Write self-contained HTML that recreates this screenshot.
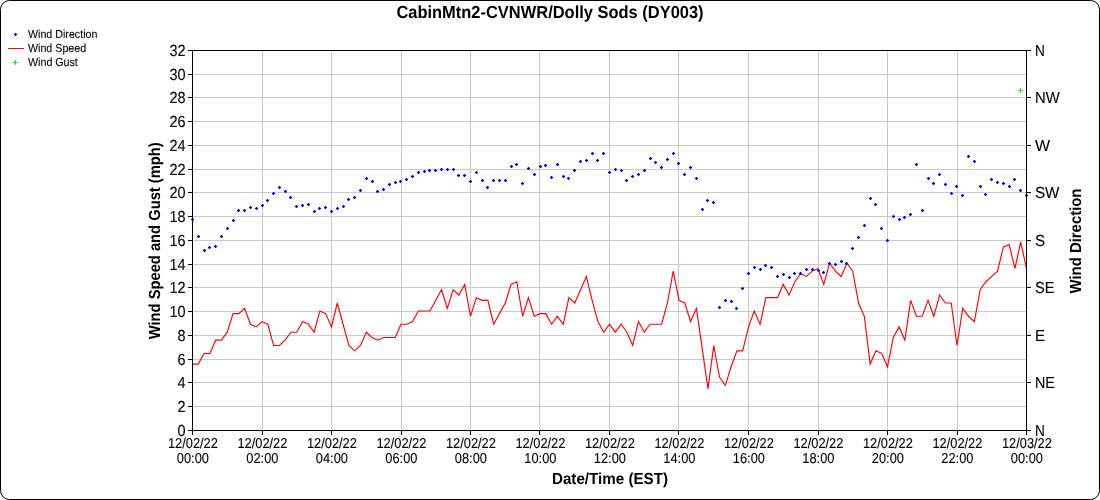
<!DOCTYPE html>
<html><head><meta charset="utf-8"><title>CabinMtn2-CVNWR/Dolly Sods (DY003)</title>
<style>html,body{margin:0;padding:0;background:#fff}body{width:1100px;height:500px;overflow:hidden}svg{display:block}text{font-family:"Liberation Sans",Arial,sans-serif;fill:#000;text-rendering:geometricPrecision;stroke:#000;stroke-width:0.1px}.b{font-weight:bold;stroke:none}</style></head><body>
<svg width="1100" height="500" viewBox="0 0 1100 500">
<rect x="0" y="0" width="1100" height="500" fill="#fff"/>
<rect x="0.5" y="0.5" width="1099" height="499" rx="9" ry="9" fill="#fff" stroke="#000" stroke-width="1"/>
<g shape-rendering="crispEdges" fill="#cacaca">
<rect x="193" y="406" width="833" height="1"/>
<rect x="193" y="382" width="833" height="1"/>
<rect x="193" y="359" width="833" height="1"/>
<rect x="193" y="335" width="833" height="1"/>
<rect x="193" y="311" width="833" height="1"/>
<rect x="193" y="287" width="833" height="1"/>
<rect x="193" y="264" width="833" height="1"/>
<rect x="193" y="240" width="833" height="1"/>
<rect x="193" y="216" width="833" height="1"/>
<rect x="193" y="192" width="833" height="1"/>
<rect x="193" y="169" width="833" height="1"/>
<rect x="193" y="145" width="833" height="1"/>
<rect x="193" y="121" width="833" height="1"/>
<rect x="193" y="97" width="833" height="1"/>
<rect x="193" y="74" width="833" height="1"/>
<rect x="262" y="51" width="1" height="379"/>
<rect x="331" y="51" width="1" height="379"/>
<rect x="401" y="51" width="1" height="379"/>
<rect x="470" y="51" width="1" height="379"/>
<rect x="539" y="51" width="1" height="379"/>
<rect x="609" y="51" width="1" height="379"/>
<rect x="678" y="51" width="1" height="379"/>
<rect x="748" y="51" width="1" height="379"/>
<rect x="818" y="51" width="1" height="379"/>
<rect x="887" y="51" width="1" height="379"/>
<rect x="957" y="51" width="1" height="379"/>
</g>
<polyline points="192.50,364.09 198.29,364.09 204.08,353.47 209.88,353.47 215.67,340.18 221.46,340.18 227.25,332.21 233.04,313.62 238.83,313.62 244.62,308.31 250.42,324.25 256.21,326.90 262.00,321.59 267.79,324.25 273.58,345.50 279.38,345.50 285.17,340.18 290.96,332.21 296.75,332.21 302.54,321.59 308.33,324.25 314.12,332.21 319.92,310.96 325.71,313.62 331.50,326.90 337.29,302.99 343.08,324.25 348.88,345.50 354.67,350.81 360.46,345.50 366.25,332.21 372.04,337.53 377.83,340.18 383.62,337.53 389.42,337.53 395.21,337.53 401.00,324.25 406.79,324.25 412.58,321.59 418.38,310.96 424.17,310.96 429.96,310.96 435.75,300.34 441.54,289.71 447.33,308.31 453.12,289.71 458.92,295.03 464.71,284.40 470.50,316.28 476.29,297.68 482.08,300.34 487.88,300.34 493.67,324.25 499.46,313.62 505.25,302.99 511.04,284.40 516.83,281.74 522.62,316.28 528.42,297.68 534.21,316.28 540.00,313.62 545.79,313.62 551.58,324.25 557.38,316.28 563.17,324.25 568.96,297.68 574.75,302.99 580.54,289.71 586.33,276.43 592.12,300.34 597.92,321.59 603.71,332.21 609.50,324.25 615.29,332.21 621.08,324.25 626.88,332.21 632.67,345.50 638.46,321.59 644.25,332.21 650.04,324.25 655.83,324.25 661.62,324.25 667.42,302.99 673.21,271.12 679.00,300.34 684.79,302.99 690.58,321.59 696.38,308.31 702.17,348.15 707.96,388.80 713.75,345.50 719.54,377.37 725.33,385.34 731.12,366.75 736.92,350.81 742.71,350.81 748.50,326.90 754.29,310.96 760.08,324.25 765.88,297.68 771.67,297.68 777.46,297.68 783.25,284.40 789.04,295.03 794.83,281.74 800.62,273.77 806.42,276.43 812.21,271.12 818.00,268.46 823.79,284.40 829.58,263.15 835.38,271.12 841.17,276.43 846.96,263.15 852.75,271.12 858.54,302.99 864.33,316.28 870.12,364.09 875.92,350.81 881.71,353.47 887.50,366.75 893.29,337.53 899.08,326.90 904.88,340.18 910.67,300.34 916.46,316.28 922.25,316.28 928.04,300.34 933.83,316.28 939.62,295.03 945.42,302.99 951.21,302.99 957.00,345.50 962.79,308.31 968.58,316.28 974.38,321.59 980.17,289.71 985.96,281.74 991.75,276.43 997.54,271.12 1003.33,247.21 1009.12,244.55 1014.92,268.46 1020.71,241.90 1026.50,268.46" fill="none" stroke="#ff0000" stroke-width="1.15" stroke-linejoin="miter"/>
<g shape-rendering="crispEdges" fill="#0000ff">
<path d="M191 219h3v1h-3zM192 218h1v3h-1z"/><rect x="191" y="218" width="3" height="3" fill-opacity="0.3"/>
<path d="M197 236h3v1h-3zM198 235h1v3h-1z"/><rect x="197" y="235" width="3" height="3" fill-opacity="0.3"/>
<path d="M203 250h3v1h-3zM204 249h1v3h-1z"/><rect x="203" y="249" width="3" height="3" fill-opacity="0.3"/>
<path d="M208 247h3v1h-3zM209 246h1v3h-1z"/><rect x="208" y="246" width="3" height="3" fill-opacity="0.3"/>
<path d="M214 246h3v1h-3zM215 245h1v3h-1z"/><rect x="214" y="245" width="3" height="3" fill-opacity="0.3"/>
<path d="M220 236h3v1h-3zM221 235h1v3h-1z"/><rect x="220" y="235" width="3" height="3" fill-opacity="0.3"/>
<path d="M226 228h3v1h-3zM227 227h1v3h-1z"/><rect x="226" y="227" width="3" height="3" fill-opacity="0.3"/>
<path d="M232 220h3v1h-3zM233 219h1v3h-1z"/><rect x="232" y="219" width="3" height="3" fill-opacity="0.3"/>
<path d="M237 210h3v1h-3zM238 209h1v3h-1z"/><rect x="237" y="209" width="3" height="3" fill-opacity="0.3"/>
<path d="M243 210h3v1h-3zM244 209h1v3h-1z"/><rect x="243" y="209" width="3" height="3" fill-opacity="0.3"/>
<path d="M249 207h3v1h-3zM250 206h1v3h-1z"/><rect x="249" y="206" width="3" height="3" fill-opacity="0.3"/>
<path d="M255 208h3v1h-3zM256 207h1v3h-1z"/><rect x="255" y="207" width="3" height="3" fill-opacity="0.3"/>
<path d="M261 205h3v1h-3zM262 204h1v3h-1z"/><rect x="261" y="204" width="3" height="3" fill-opacity="0.3"/>
<path d="M266 200h3v1h-3zM267 199h1v3h-1z"/><rect x="266" y="199" width="3" height="3" fill-opacity="0.3"/>
<path d="M272 193h3v1h-3zM273 192h1v3h-1z"/><rect x="272" y="192" width="3" height="3" fill-opacity="0.3"/>
<path d="M278 187h3v1h-3zM279 186h1v3h-1z"/><rect x="278" y="186" width="3" height="3" fill-opacity="0.3"/>
<path d="M284 191h3v1h-3zM285 190h1v3h-1z"/><rect x="284" y="190" width="3" height="3" fill-opacity="0.3"/>
<path d="M289 197h3v1h-3zM290 196h1v3h-1z"/><rect x="289" y="196" width="3" height="3" fill-opacity="0.3"/>
<path d="M295 206h3v1h-3zM296 205h1v3h-1z"/><rect x="295" y="205" width="3" height="3" fill-opacity="0.3"/>
<path d="M301 205h3v1h-3zM302 204h1v3h-1z"/><rect x="301" y="204" width="3" height="3" fill-opacity="0.3"/>
<path d="M307 204h3v1h-3zM308 203h1v3h-1z"/><rect x="307" y="203" width="3" height="3" fill-opacity="0.3"/>
<path d="M313 211h3v1h-3zM314 210h1v3h-1z"/><rect x="313" y="210" width="3" height="3" fill-opacity="0.3"/>
<path d="M318 208h3v1h-3zM319 207h1v3h-1z"/><rect x="318" y="207" width="3" height="3" fill-opacity="0.3"/>
<path d="M324 207h3v1h-3zM325 206h1v3h-1z"/><rect x="324" y="206" width="3" height="3" fill-opacity="0.3"/>
<path d="M330 211h3v1h-3zM331 210h1v3h-1z"/><rect x="330" y="210" width="3" height="3" fill-opacity="0.3"/>
<path d="M336 208h3v1h-3zM337 207h1v3h-1z"/><rect x="336" y="207" width="3" height="3" fill-opacity="0.3"/>
<path d="M342 206h3v1h-3zM343 205h1v3h-1z"/><rect x="342" y="205" width="3" height="3" fill-opacity="0.3"/>
<path d="M347 199h3v1h-3zM348 198h1v3h-1z"/><rect x="347" y="198" width="3" height="3" fill-opacity="0.3"/>
<path d="M353 197h3v1h-3zM354 196h1v3h-1z"/><rect x="353" y="196" width="3" height="3" fill-opacity="0.3"/>
<path d="M359 190h3v1h-3zM360 189h1v3h-1z"/><rect x="359" y="189" width="3" height="3" fill-opacity="0.3"/>
<path d="M365 178h3v1h-3zM366 177h1v3h-1z"/><rect x="365" y="177" width="3" height="3" fill-opacity="0.3"/>
<path d="M371 181h3v1h-3zM372 180h1v3h-1z"/><rect x="371" y="180" width="3" height="3" fill-opacity="0.3"/>
<path d="M376 191h3v1h-3zM377 190h1v3h-1z"/><rect x="376" y="190" width="3" height="3" fill-opacity="0.3"/>
<path d="M382 189h3v1h-3zM383 188h1v3h-1z"/><rect x="382" y="188" width="3" height="3" fill-opacity="0.3"/>
<path d="M388 184h3v1h-3zM389 183h1v3h-1z"/><rect x="388" y="183" width="3" height="3" fill-opacity="0.3"/>
<path d="M394 182h3v1h-3zM395 181h1v3h-1z"/><rect x="394" y="181" width="3" height="3" fill-opacity="0.3"/>
<path d="M399 181h3v1h-3zM400 180h1v3h-1z"/><rect x="399" y="180" width="3" height="3" fill-opacity="0.3"/>
<path d="M405 179h3v1h-3zM406 178h1v3h-1z"/><rect x="405" y="178" width="3" height="3" fill-opacity="0.3"/>
<path d="M411 176h3v1h-3zM412 175h1v3h-1z"/><rect x="411" y="175" width="3" height="3" fill-opacity="0.3"/>
<path d="M417 172h3v1h-3zM418 171h1v3h-1z"/><rect x="417" y="171" width="3" height="3" fill-opacity="0.3"/>
<path d="M423 171h3v1h-3zM424 170h1v3h-1z"/><rect x="423" y="170" width="3" height="3" fill-opacity="0.3"/>
<path d="M428 170h3v1h-3zM429 169h1v3h-1z"/><rect x="428" y="169" width="3" height="3" fill-opacity="0.3"/>
<path d="M434 170h3v1h-3zM435 169h1v3h-1z"/><rect x="434" y="169" width="3" height="3" fill-opacity="0.3"/>
<path d="M440 169h3v1h-3zM441 168h1v3h-1z"/><rect x="440" y="168" width="3" height="3" fill-opacity="0.3"/>
<path d="M446 169h3v1h-3zM447 168h1v3h-1z"/><rect x="446" y="168" width="3" height="3" fill-opacity="0.3"/>
<path d="M452 169h3v1h-3zM453 168h1v3h-1z"/><rect x="452" y="168" width="3" height="3" fill-opacity="0.3"/>
<path d="M457 175h3v1h-3zM458 174h1v3h-1z"/><rect x="457" y="174" width="3" height="3" fill-opacity="0.3"/>
<path d="M463 175h3v1h-3zM464 174h1v3h-1z"/><rect x="463" y="174" width="3" height="3" fill-opacity="0.3"/>
<path d="M469 181h3v1h-3zM470 180h1v3h-1z"/><rect x="469" y="180" width="3" height="3" fill-opacity="0.3"/>
<path d="M475 172h3v1h-3zM476 171h1v3h-1z"/><rect x="475" y="171" width="3" height="3" fill-opacity="0.3"/>
<path d="M481 180h3v1h-3zM482 179h1v3h-1z"/><rect x="481" y="179" width="3" height="3" fill-opacity="0.3"/>
<path d="M486 187h3v1h-3zM487 186h1v3h-1z"/><rect x="486" y="186" width="3" height="3" fill-opacity="0.3"/>
<path d="M492 180h3v1h-3zM493 179h1v3h-1z"/><rect x="492" y="179" width="3" height="3" fill-opacity="0.3"/>
<path d="M498 180h3v1h-3zM499 179h1v3h-1z"/><rect x="498" y="179" width="3" height="3" fill-opacity="0.3"/>
<path d="M504 180h3v1h-3zM505 179h1v3h-1z"/><rect x="504" y="179" width="3" height="3" fill-opacity="0.3"/>
<path d="M510 166h3v1h-3zM511 165h1v3h-1z"/><rect x="510" y="165" width="3" height="3" fill-opacity="0.3"/>
<path d="M515 164h3v1h-3zM516 163h1v3h-1z"/><rect x="515" y="163" width="3" height="3" fill-opacity="0.3"/>
<path d="M521 183h3v1h-3zM522 182h1v3h-1z"/><rect x="521" y="182" width="3" height="3" fill-opacity="0.3"/>
<path d="M527 168h3v1h-3zM528 167h1v3h-1z"/><rect x="527" y="167" width="3" height="3" fill-opacity="0.3"/>
<path d="M533 174h3v1h-3zM534 173h1v3h-1z"/><rect x="533" y="173" width="3" height="3" fill-opacity="0.3"/>
<path d="M539 166h3v1h-3zM540 165h1v3h-1z"/><rect x="539" y="165" width="3" height="3" fill-opacity="0.3"/>
<path d="M544 165h3v1h-3zM545 164h1v3h-1z"/><rect x="544" y="164" width="3" height="3" fill-opacity="0.3"/>
<path d="M550 177h3v1h-3zM551 176h1v3h-1z"/><rect x="550" y="176" width="3" height="3" fill-opacity="0.3"/>
<path d="M556 164h3v1h-3zM557 163h1v3h-1z"/><rect x="556" y="163" width="3" height="3" fill-opacity="0.3"/>
<path d="M562 176h3v1h-3zM563 175h1v3h-1z"/><rect x="562" y="175" width="3" height="3" fill-opacity="0.3"/>
<path d="M567 178h3v1h-3zM568 177h1v3h-1z"/><rect x="567" y="177" width="3" height="3" fill-opacity="0.3"/>
<path d="M573 170h3v1h-3zM574 169h1v3h-1z"/><rect x="573" y="169" width="3" height="3" fill-opacity="0.3"/>
<path d="M579 161h3v1h-3zM580 160h1v3h-1z"/><rect x="579" y="160" width="3" height="3" fill-opacity="0.3"/>
<path d="M585 160h3v1h-3zM586 159h1v3h-1z"/><rect x="585" y="159" width="3" height="3" fill-opacity="0.3"/>
<path d="M591 153h3v1h-3zM592 152h1v3h-1z"/><rect x="591" y="152" width="3" height="3" fill-opacity="0.3"/>
<path d="M596 160h3v1h-3zM597 159h1v3h-1z"/><rect x="596" y="159" width="3" height="3" fill-opacity="0.3"/>
<path d="M602 153h3v1h-3zM603 152h1v3h-1z"/><rect x="602" y="152" width="3" height="3" fill-opacity="0.3"/>
<path d="M608 172h3v1h-3zM609 171h1v3h-1z"/><rect x="608" y="171" width="3" height="3" fill-opacity="0.3"/>
<path d="M614 169h3v1h-3zM615 168h1v3h-1z"/><rect x="614" y="168" width="3" height="3" fill-opacity="0.3"/>
<path d="M620 170h3v1h-3zM621 169h1v3h-1z"/><rect x="620" y="169" width="3" height="3" fill-opacity="0.3"/>
<path d="M625 180h3v1h-3zM626 179h1v3h-1z"/><rect x="625" y="179" width="3" height="3" fill-opacity="0.3"/>
<path d="M631 176h3v1h-3zM632 175h1v3h-1z"/><rect x="631" y="175" width="3" height="3" fill-opacity="0.3"/>
<path d="M637 174h3v1h-3zM638 173h1v3h-1z"/><rect x="637" y="173" width="3" height="3" fill-opacity="0.3"/>
<path d="M643 170h3v1h-3zM644 169h1v3h-1z"/><rect x="643" y="169" width="3" height="3" fill-opacity="0.3"/>
<path d="M649 158h3v1h-3zM650 157h1v3h-1z"/><rect x="649" y="157" width="3" height="3" fill-opacity="0.3"/>
<path d="M654 162h3v1h-3zM655 161h1v3h-1z"/><rect x="654" y="161" width="3" height="3" fill-opacity="0.3"/>
<path d="M660 167h3v1h-3zM661 166h1v3h-1z"/><rect x="660" y="166" width="3" height="3" fill-opacity="0.3"/>
<path d="M666 159h3v1h-3zM667 158h1v3h-1z"/><rect x="666" y="158" width="3" height="3" fill-opacity="0.3"/>
<path d="M672 153h3v1h-3zM673 152h1v3h-1z"/><rect x="672" y="152" width="3" height="3" fill-opacity="0.3"/>
<path d="M677 163h3v1h-3zM678 162h1v3h-1z"/><rect x="677" y="162" width="3" height="3" fill-opacity="0.3"/>
<path d="M683 174h3v1h-3zM684 173h1v3h-1z"/><rect x="683" y="173" width="3" height="3" fill-opacity="0.3"/>
<path d="M689 167h3v1h-3zM690 166h1v3h-1z"/><rect x="689" y="166" width="3" height="3" fill-opacity="0.3"/>
<path d="M695 178h3v1h-3zM696 177h1v3h-1z"/><rect x="695" y="177" width="3" height="3" fill-opacity="0.3"/>
<path d="M701 209h3v1h-3zM702 208h1v3h-1z"/><rect x="701" y="208" width="3" height="3" fill-opacity="0.3"/>
<path d="M706 200h3v1h-3zM707 199h1v3h-1z"/><rect x="706" y="199" width="3" height="3" fill-opacity="0.3"/>
<path d="M712 202h3v1h-3zM713 201h1v3h-1z"/><rect x="712" y="201" width="3" height="3" fill-opacity="0.3"/>
<path d="M718 307h3v1h-3zM719 306h1v3h-1z"/><rect x="718" y="306" width="3" height="3" fill-opacity="0.3"/>
<path d="M724 300h3v1h-3zM725 299h1v3h-1z"/><rect x="724" y="299" width="3" height="3" fill-opacity="0.3"/>
<path d="M730 301h3v1h-3zM731 300h1v3h-1z"/><rect x="730" y="300" width="3" height="3" fill-opacity="0.3"/>
<path d="M735 308h3v1h-3zM736 307h1v3h-1z"/><rect x="735" y="307" width="3" height="3" fill-opacity="0.3"/>
<path d="M741 288h3v1h-3zM742 287h1v3h-1z"/><rect x="741" y="287" width="3" height="3" fill-opacity="0.3"/>
<path d="M747 273h3v1h-3zM748 272h1v3h-1z"/><rect x="747" y="272" width="3" height="3" fill-opacity="0.3"/>
<path d="M753 267h3v1h-3zM754 266h1v3h-1z"/><rect x="753" y="266" width="3" height="3" fill-opacity="0.3"/>
<path d="M759 269h3v1h-3zM760 268h1v3h-1z"/><rect x="759" y="268" width="3" height="3" fill-opacity="0.3"/>
<path d="M764 265h3v1h-3zM765 264h1v3h-1z"/><rect x="764" y="264" width="3" height="3" fill-opacity="0.3"/>
<path d="M770 267h3v1h-3zM771 266h1v3h-1z"/><rect x="770" y="266" width="3" height="3" fill-opacity="0.3"/>
<path d="M776 276h3v1h-3zM777 275h1v3h-1z"/><rect x="776" y="275" width="3" height="3" fill-opacity="0.3"/>
<path d="M782 274h3v1h-3zM783 273h1v3h-1z"/><rect x="782" y="273" width="3" height="3" fill-opacity="0.3"/>
<path d="M788 277h3v1h-3zM789 276h1v3h-1z"/><rect x="788" y="276" width="3" height="3" fill-opacity="0.3"/>
<path d="M793 273h3v1h-3zM794 272h1v3h-1z"/><rect x="793" y="272" width="3" height="3" fill-opacity="0.3"/>
<path d="M799 273h3v1h-3zM800 272h1v3h-1z"/><rect x="799" y="272" width="3" height="3" fill-opacity="0.3"/>
<path d="M805 269h3v1h-3zM806 268h1v3h-1z"/><rect x="805" y="268" width="3" height="3" fill-opacity="0.3"/>
<path d="M811 269h3v1h-3zM812 268h1v3h-1z"/><rect x="811" y="268" width="3" height="3" fill-opacity="0.3"/>
<path d="M817 270h3v1h-3zM818 269h1v3h-1z"/><rect x="817" y="269" width="3" height="3" fill-opacity="0.3"/>
<path d="M822 272h3v1h-3zM823 271h1v3h-1z"/><rect x="822" y="271" width="3" height="3" fill-opacity="0.3"/>
<path d="M828 263h3v1h-3zM829 262h1v3h-1z"/><rect x="828" y="262" width="3" height="3" fill-opacity="0.3"/>
<path d="M834 264h3v1h-3zM835 263h1v3h-1z"/><rect x="834" y="263" width="3" height="3" fill-opacity="0.3"/>
<path d="M840 261h3v1h-3zM841 260h1v3h-1z"/><rect x="840" y="260" width="3" height="3" fill-opacity="0.3"/>
<path d="M845 263h3v1h-3zM846 262h1v3h-1z"/><rect x="845" y="262" width="3" height="3" fill-opacity="0.3"/>
<path d="M851 248h3v1h-3zM852 247h1v3h-1z"/><rect x="851" y="247" width="3" height="3" fill-opacity="0.3"/>
<path d="M857 237h3v1h-3zM858 236h1v3h-1z"/><rect x="857" y="236" width="3" height="3" fill-opacity="0.3"/>
<path d="M863 225h3v1h-3zM864 224h1v3h-1z"/><rect x="863" y="224" width="3" height="3" fill-opacity="0.3"/>
<path d="M869 198h3v1h-3zM870 197h1v3h-1z"/><rect x="869" y="197" width="3" height="3" fill-opacity="0.3"/>
<path d="M874 204h3v1h-3zM875 203h1v3h-1z"/><rect x="874" y="203" width="3" height="3" fill-opacity="0.3"/>
<path d="M880 228h3v1h-3zM881 227h1v3h-1z"/><rect x="880" y="227" width="3" height="3" fill-opacity="0.3"/>
<path d="M886 240h3v1h-3zM887 239h1v3h-1z"/><rect x="886" y="239" width="3" height="3" fill-opacity="0.3"/>
<path d="M892 216h3v1h-3zM893 215h1v3h-1z"/><rect x="892" y="215" width="3" height="3" fill-opacity="0.3"/>
<path d="M898 219h3v1h-3zM899 218h1v3h-1z"/><rect x="898" y="218" width="3" height="3" fill-opacity="0.3"/>
<path d="M903 217h3v1h-3zM904 216h1v3h-1z"/><rect x="903" y="216" width="3" height="3" fill-opacity="0.3"/>
<path d="M909 214h3v1h-3zM910 213h1v3h-1z"/><rect x="909" y="213" width="3" height="3" fill-opacity="0.3"/>
<path d="M915 164h3v1h-3zM916 163h1v3h-1z"/><rect x="915" y="163" width="3" height="3" fill-opacity="0.3"/>
<path d="M921 210h3v1h-3zM922 209h1v3h-1z"/><rect x="921" y="209" width="3" height="3" fill-opacity="0.3"/>
<path d="M927 178h3v1h-3zM928 177h1v3h-1z"/><rect x="927" y="177" width="3" height="3" fill-opacity="0.3"/>
<path d="M932 183h3v1h-3zM933 182h1v3h-1z"/><rect x="932" y="182" width="3" height="3" fill-opacity="0.3"/>
<path d="M938 174h3v1h-3zM939 173h1v3h-1z"/><rect x="938" y="173" width="3" height="3" fill-opacity="0.3"/>
<path d="M944 184h3v1h-3zM945 183h1v3h-1z"/><rect x="944" y="183" width="3" height="3" fill-opacity="0.3"/>
<path d="M950 193h3v1h-3zM951 192h1v3h-1z"/><rect x="950" y="192" width="3" height="3" fill-opacity="0.3"/>
<path d="M955 186h3v1h-3zM956 185h1v3h-1z"/><rect x="955" y="185" width="3" height="3" fill-opacity="0.3"/>
<path d="M961 195h3v1h-3zM962 194h1v3h-1z"/><rect x="961" y="194" width="3" height="3" fill-opacity="0.3"/>
<path d="M967 156h3v1h-3zM968 155h1v3h-1z"/><rect x="967" y="155" width="3" height="3" fill-opacity="0.3"/>
<path d="M973 161h3v1h-3zM974 160h1v3h-1z"/><rect x="973" y="160" width="3" height="3" fill-opacity="0.3"/>
<path d="M979 186h3v1h-3zM980 185h1v3h-1z"/><rect x="979" y="185" width="3" height="3" fill-opacity="0.3"/>
<path d="M984 194h3v1h-3zM985 193h1v3h-1z"/><rect x="984" y="193" width="3" height="3" fill-opacity="0.3"/>
<path d="M990 179h3v1h-3zM991 178h1v3h-1z"/><rect x="990" y="178" width="3" height="3" fill-opacity="0.3"/>
<path d="M996 182h3v1h-3zM997 181h1v3h-1z"/><rect x="996" y="181" width="3" height="3" fill-opacity="0.3"/>
<path d="M1002 183h3v1h-3zM1003 182h1v3h-1z"/><rect x="1002" y="182" width="3" height="3" fill-opacity="0.3"/>
<path d="M1008 186h3v1h-3zM1009 185h1v3h-1z"/><rect x="1008" y="185" width="3" height="3" fill-opacity="0.3"/>
<path d="M1013 179h3v1h-3zM1014 178h1v3h-1z"/><rect x="1013" y="178" width="3" height="3" fill-opacity="0.3"/>
<path d="M1019 190h3v1h-3zM1020 189h1v3h-1z"/><rect x="1019" y="189" width="3" height="3" fill-opacity="0.3"/>
<path d="M1025 195h3v1h-3zM1026 194h1v3h-1z"/><rect x="1025" y="194" width="3" height="3" fill-opacity="0.3"/>
</g>
<g shape-rendering="crispEdges" fill="#00ff00"><rect x="1018" y="90" width="5" height="1"/><rect x="1020" y="88" width="1" height="5"/></g>
<g shape-rendering="crispEdges" fill="#000">
<rect x="192" y="50" width="835" height="1"/>
<rect x="192" y="430" width="835" height="1"/>
<rect x="192" y="50" width="1" height="381"/>
<rect x="1026" y="50" width="1" height="381"/>
<rect x="188" y="430" width="4" height="1"/>
<rect x="188" y="406" width="4" height="1"/>
<rect x="188" y="382" width="4" height="1"/>
<rect x="188" y="359" width="4" height="1"/>
<rect x="188" y="335" width="4" height="1"/>
<rect x="188" y="311" width="4" height="1"/>
<rect x="188" y="287" width="4" height="1"/>
<rect x="188" y="264" width="4" height="1"/>
<rect x="188" y="240" width="4" height="1"/>
<rect x="188" y="216" width="4" height="1"/>
<rect x="188" y="192" width="4" height="1"/>
<rect x="188" y="169" width="4" height="1"/>
<rect x="188" y="145" width="4" height="1"/>
<rect x="188" y="121" width="4" height="1"/>
<rect x="188" y="97" width="4" height="1"/>
<rect x="188" y="74" width="4" height="1"/>
<rect x="188" y="50" width="4" height="1"/>
<rect x="1027" y="430" width="4" height="1"/>
<rect x="1027" y="382" width="4" height="1"/>
<rect x="1027" y="335" width="4" height="1"/>
<rect x="1027" y="287" width="4" height="1"/>
<rect x="1027" y="240" width="4" height="1"/>
<rect x="1027" y="192" width="4" height="1"/>
<rect x="1027" y="145" width="4" height="1"/>
<rect x="1027" y="97" width="4" height="1"/>
<rect x="1027" y="50" width="4" height="1"/>
<rect x="192" y="431" width="1" height="4"/>
<rect x="262" y="431" width="1" height="4"/>
<rect x="331" y="431" width="1" height="4"/>
<rect x="401" y="431" width="1" height="4"/>
<rect x="470" y="431" width="1" height="4"/>
<rect x="539" y="431" width="1" height="4"/>
<rect x="609" y="431" width="1" height="4"/>
<rect x="678" y="431" width="1" height="4"/>
<rect x="748" y="431" width="1" height="4"/>
<rect x="818" y="431" width="1" height="4"/>
<rect x="887" y="431" width="1" height="4"/>
<rect x="957" y="431" width="1" height="4"/>
<rect x="1026" y="431" width="1" height="4"/>
</g>
<g shape-rendering="crispEdges"><path fill="#0000ff" d="M14 34h3v1h-3zM15 33h1v3h-1z"/><rect x="14" y="33" width="3" height="3" fill="#0000ff" fill-opacity="0.3"/><rect x="8" y="48" width="16" height="1" fill="#ff0000"/><rect x="13" y="62" width="5" height="1" fill="#00ff00"/><rect x="15" y="60" width="1" height="5" fill="#00ff00"/></g>
<text x="28.00" y="38.00" font-size="11.63" textLength="69.38" lengthAdjust="spacingAndGlyphs">Wind Direction</text>
<text x="28.00" y="52.00" font-size="11.63" textLength="58.13" lengthAdjust="spacingAndGlyphs">Wind Speed</text>
<text x="28.00" y="66.00" font-size="11.63" textLength="49.81" lengthAdjust="spacingAndGlyphs">Wind Gust</text>
<text x="185.50" y="436.00" font-size="16" text-anchor="end" textLength="8.04" lengthAdjust="spacingAndGlyphs">0</text>
<text x="185.50" y="412.00" font-size="16" text-anchor="end" textLength="8.04" lengthAdjust="spacingAndGlyphs">2</text>
<text x="185.50" y="388.00" font-size="16" text-anchor="end" textLength="8.04" lengthAdjust="spacingAndGlyphs">4</text>
<text x="185.50" y="365.00" font-size="16" text-anchor="end" textLength="8.04" lengthAdjust="spacingAndGlyphs">6</text>
<text x="185.50" y="341.00" font-size="16" text-anchor="end" textLength="8.04" lengthAdjust="spacingAndGlyphs">8</text>
<text x="185.50" y="317.00" font-size="16" text-anchor="end" textLength="16.07" lengthAdjust="spacingAndGlyphs">10</text>
<text x="185.50" y="293.00" font-size="16" text-anchor="end" textLength="16.07" lengthAdjust="spacingAndGlyphs">12</text>
<text x="185.50" y="270.00" font-size="16" text-anchor="end" textLength="16.07" lengthAdjust="spacingAndGlyphs">14</text>
<text x="185.50" y="246.00" font-size="16" text-anchor="end" textLength="16.07" lengthAdjust="spacingAndGlyphs">16</text>
<text x="185.50" y="222.00" font-size="16" text-anchor="end" textLength="16.07" lengthAdjust="spacingAndGlyphs">18</text>
<text x="185.50" y="198.00" font-size="16" text-anchor="end" textLength="16.07" lengthAdjust="spacingAndGlyphs">20</text>
<text x="185.50" y="175.00" font-size="16" text-anchor="end" textLength="16.07" lengthAdjust="spacingAndGlyphs">22</text>
<text x="185.50" y="151.00" font-size="16" text-anchor="end" textLength="16.07" lengthAdjust="spacingAndGlyphs">24</text>
<text x="185.50" y="127.00" font-size="16" text-anchor="end" textLength="16.07" lengthAdjust="spacingAndGlyphs">26</text>
<text x="185.50" y="103.00" font-size="16" text-anchor="end" textLength="16.07" lengthAdjust="spacingAndGlyphs">28</text>
<text x="185.50" y="80.00" font-size="16" text-anchor="end" textLength="16.07" lengthAdjust="spacingAndGlyphs">30</text>
<text x="185.50" y="56.00" font-size="16" text-anchor="end" textLength="16.07" lengthAdjust="spacingAndGlyphs">32</text>
<text x="1035.00" y="436.00" font-size="16" textLength="9.85" lengthAdjust="spacingAndGlyphs">N</text>
<text x="1035.00" y="388.00" font-size="16" textLength="19.91" lengthAdjust="spacingAndGlyphs">NE</text>
<text x="1035.00" y="341.00" font-size="16" textLength="10.13" lengthAdjust="spacingAndGlyphs">E</text>
<text x="1035.00" y="293.00" font-size="16" textLength="19.53" lengthAdjust="spacingAndGlyphs">SE</text>
<text x="1035.00" y="246.00" font-size="16" textLength="10.13" lengthAdjust="spacingAndGlyphs">S</text>
<text x="1035.00" y="198.00" font-size="16" textLength="24.46" lengthAdjust="spacingAndGlyphs">SW</text>
<text x="1035.00" y="151.00" font-size="16" textLength="15.09" lengthAdjust="spacingAndGlyphs">W</text>
<text x="1035.00" y="103.00" font-size="16" textLength="24.78" lengthAdjust="spacingAndGlyphs">NW</text>
<text x="1035.00" y="56.00" font-size="16" textLength="9.85" lengthAdjust="spacingAndGlyphs">N</text>
<text x="192.90" y="448.00" font-size="14.33" text-anchor="middle" textLength="49.97" lengthAdjust="spacingAndGlyphs">12/02/22</text>
<text x="192.90" y="463.00" font-size="14.33" text-anchor="middle" textLength="32.12" lengthAdjust="spacingAndGlyphs">00:00</text>
<text x="262.40" y="448.00" font-size="14.33" text-anchor="middle" textLength="49.97" lengthAdjust="spacingAndGlyphs">12/02/22</text>
<text x="262.40" y="463.00" font-size="14.33" text-anchor="middle" textLength="32.12" lengthAdjust="spacingAndGlyphs">02:00</text>
<text x="331.90" y="448.00" font-size="14.33" text-anchor="middle" textLength="49.97" lengthAdjust="spacingAndGlyphs">12/02/22</text>
<text x="331.90" y="463.00" font-size="14.33" text-anchor="middle" textLength="32.12" lengthAdjust="spacingAndGlyphs">04:00</text>
<text x="401.40" y="448.00" font-size="14.33" text-anchor="middle" textLength="49.97" lengthAdjust="spacingAndGlyphs">12/02/22</text>
<text x="401.40" y="463.00" font-size="14.33" text-anchor="middle" textLength="32.12" lengthAdjust="spacingAndGlyphs">06:00</text>
<text x="470.90" y="448.00" font-size="14.33" text-anchor="middle" textLength="49.97" lengthAdjust="spacingAndGlyphs">12/02/22</text>
<text x="470.90" y="463.00" font-size="14.33" text-anchor="middle" textLength="32.12" lengthAdjust="spacingAndGlyphs">08:00</text>
<text x="540.40" y="448.00" font-size="14.33" text-anchor="middle" textLength="49.97" lengthAdjust="spacingAndGlyphs">12/02/22</text>
<text x="540.40" y="463.00" font-size="14.33" text-anchor="middle" textLength="32.12" lengthAdjust="spacingAndGlyphs">10:00</text>
<text x="609.90" y="448.00" font-size="14.33" text-anchor="middle" textLength="49.97" lengthAdjust="spacingAndGlyphs">12/02/22</text>
<text x="609.90" y="463.00" font-size="14.33" text-anchor="middle" textLength="32.12" lengthAdjust="spacingAndGlyphs">12:00</text>
<text x="679.40" y="448.00" font-size="14.33" text-anchor="middle" textLength="49.97" lengthAdjust="spacingAndGlyphs">12/02/22</text>
<text x="679.40" y="463.00" font-size="14.33" text-anchor="middle" textLength="32.12" lengthAdjust="spacingAndGlyphs">14:00</text>
<text x="748.90" y="448.00" font-size="14.33" text-anchor="middle" textLength="49.97" lengthAdjust="spacingAndGlyphs">12/02/22</text>
<text x="748.90" y="463.00" font-size="14.33" text-anchor="middle" textLength="32.12" lengthAdjust="spacingAndGlyphs">16:00</text>
<text x="818.40" y="448.00" font-size="14.33" text-anchor="middle" textLength="49.97" lengthAdjust="spacingAndGlyphs">12/02/22</text>
<text x="818.40" y="463.00" font-size="14.33" text-anchor="middle" textLength="32.12" lengthAdjust="spacingAndGlyphs">18:00</text>
<text x="887.90" y="448.00" font-size="14.33" text-anchor="middle" textLength="49.97" lengthAdjust="spacingAndGlyphs">12/02/22</text>
<text x="887.90" y="463.00" font-size="14.33" text-anchor="middle" textLength="32.12" lengthAdjust="spacingAndGlyphs">20:00</text>
<text x="957.40" y="448.00" font-size="14.33" text-anchor="middle" textLength="49.97" lengthAdjust="spacingAndGlyphs">12/02/22</text>
<text x="957.40" y="463.00" font-size="14.33" text-anchor="middle" textLength="32.12" lengthAdjust="spacingAndGlyphs">22:00</text>
<text x="1026.90" y="448.00" font-size="14.33" text-anchor="middle" textLength="49.97" lengthAdjust="spacingAndGlyphs">12/03/22</text>
<text x="1026.90" y="463.00" font-size="14.33" text-anchor="middle" textLength="32.12" lengthAdjust="spacingAndGlyphs">00:00</text>
<text class="b" x="550.00" y="18.00" font-size="17.44" text-anchor="middle" textLength="307.20" lengthAdjust="spacingAndGlyphs">CabinMtn2-CVNWR/Dolly Sods (DY003)</text>
<text class="b" x="610.00" y="484.00" font-size="16" text-anchor="middle" textLength="116.04" lengthAdjust="spacingAndGlyphs">Date/Time (EST)</text>
<text class="b" transform="translate(159.6,240.8) rotate(-90)" font-size="16" text-anchor="middle" textLength="197.06" lengthAdjust="spacingAndGlyphs">Wind Speed and Gust (mph)</text>
<text class="b" transform="translate(1081,241) rotate(-90)" font-size="16" text-anchor="middle" textLength="104.92" lengthAdjust="spacingAndGlyphs">Wind Direction</text>
</svg></body></html>
